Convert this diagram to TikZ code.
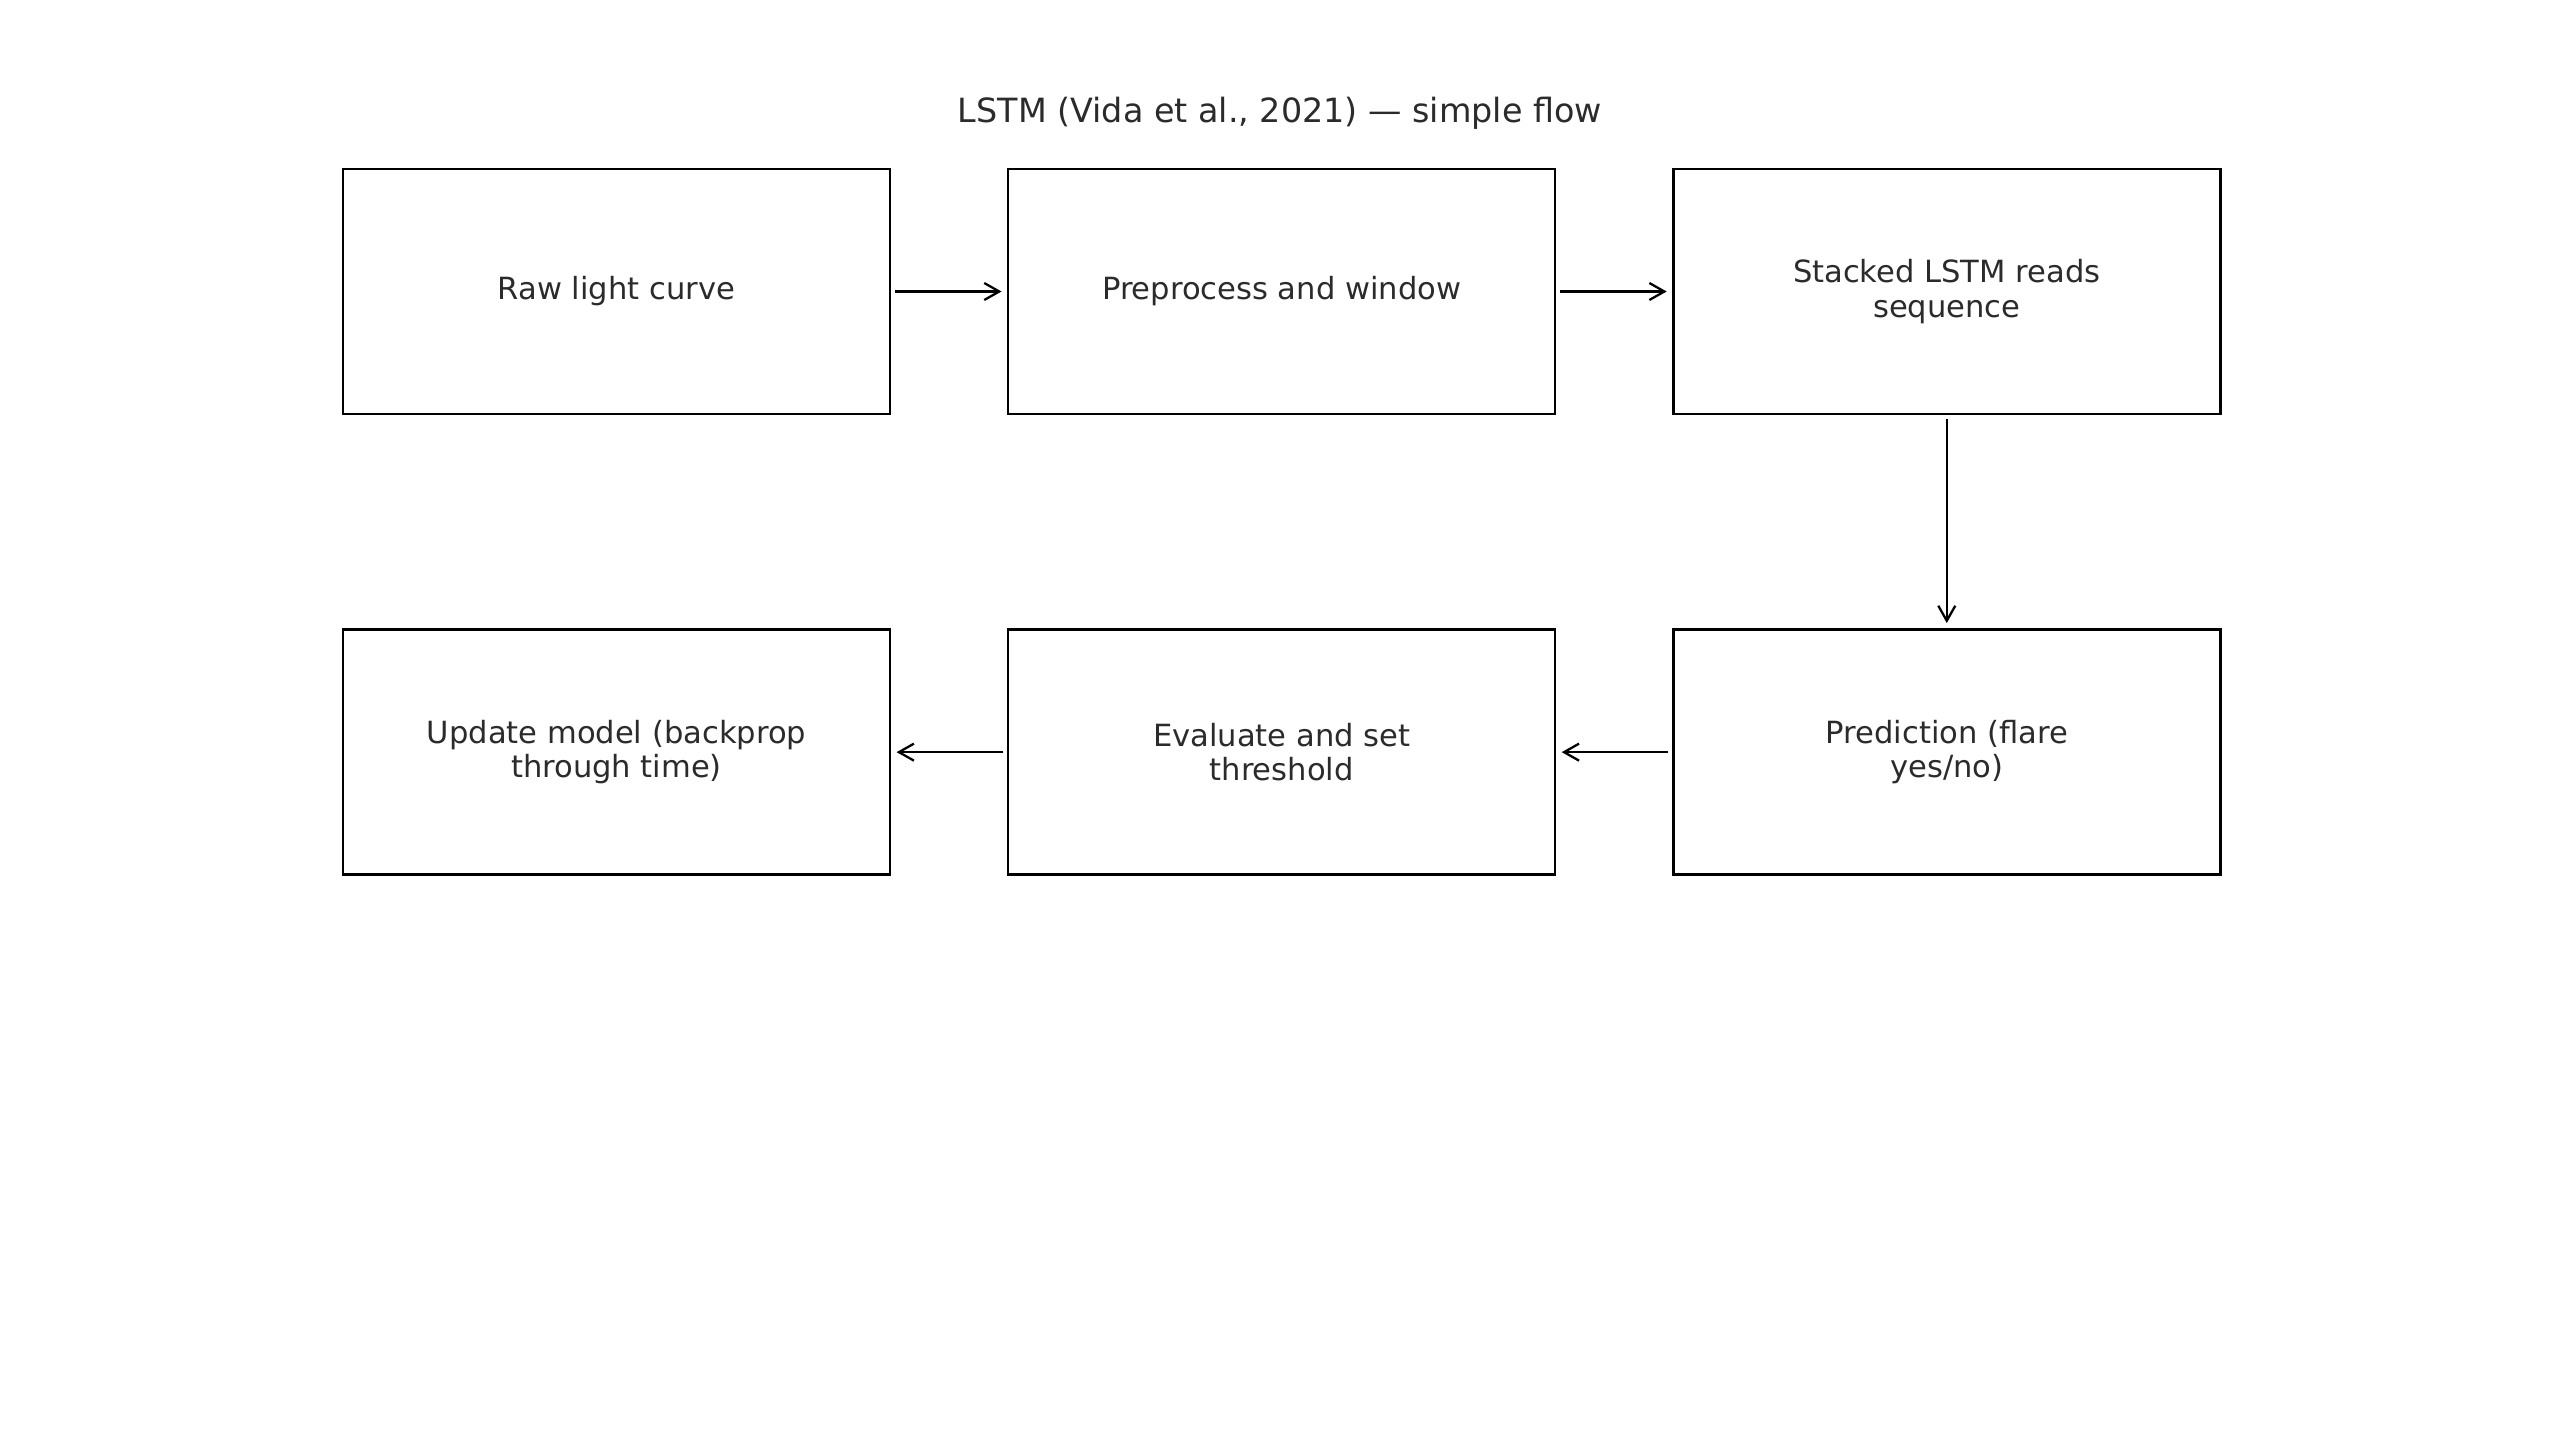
\documentclass[tikz,border=0pt]{standalone}
\usepackage{fontspec}
\setmainfont{DejaVu Sans}
\usetikzlibrary{positioning}
\usetikzlibrary{arrows.meta}
\definecolor{txtgray}{HTML}{2B2B2B}

\begin{document}
\begin{tikzpicture}[B/.style={draw, line width=0.75pt, minimum width=5.47cm, minimum height=2.45cm, align=center, text=txtgray, font=\fontsize{8.7}{9.8}\selectfont},
    A/.style={-{Straight Barb[length=1.5mm, width=1.7mm]}, line width=0.65pt, shorten <=1pt, shorten >=1.5pt}]
            \useasboundingbox (0,0) rectangle (25.6,-14.4);
            \node[text=txtgray, font=\fontsize{9.5}{11}\selectfont] (title) at (12.8,-1.13) {LSTM (Vida et al., 2021) — simple flow};
            \node[B] (raw) at (6.165,-2.915) {Raw light curve};
            \node[B, right = 1.155cm of raw] (prep) {Preprocess and window};
            \node[B, right = 1.155cm of prep] (lstm) {Stacked LSTM reads\\sequence};
            \node[B, below = 2.13cm of lstm] (pred) {Prediction (flare\\yes/no)};
            \node[B, left = 1.155cm of pred] (eval) {Evaluate and set\\threshold};
            \node[B, left = 1.155cm of eval] (upd) {Update model (backprop\\through time)};
            \draw[A] (raw) -- (prep);
            \draw[A] (prep) -- (lstm);
            \draw[A] (lstm) -- (pred);
            \draw[A] (pred) -- (eval);
            \draw[A] (eval) -- (upd);
        \end{tikzpicture}
\end{document}
